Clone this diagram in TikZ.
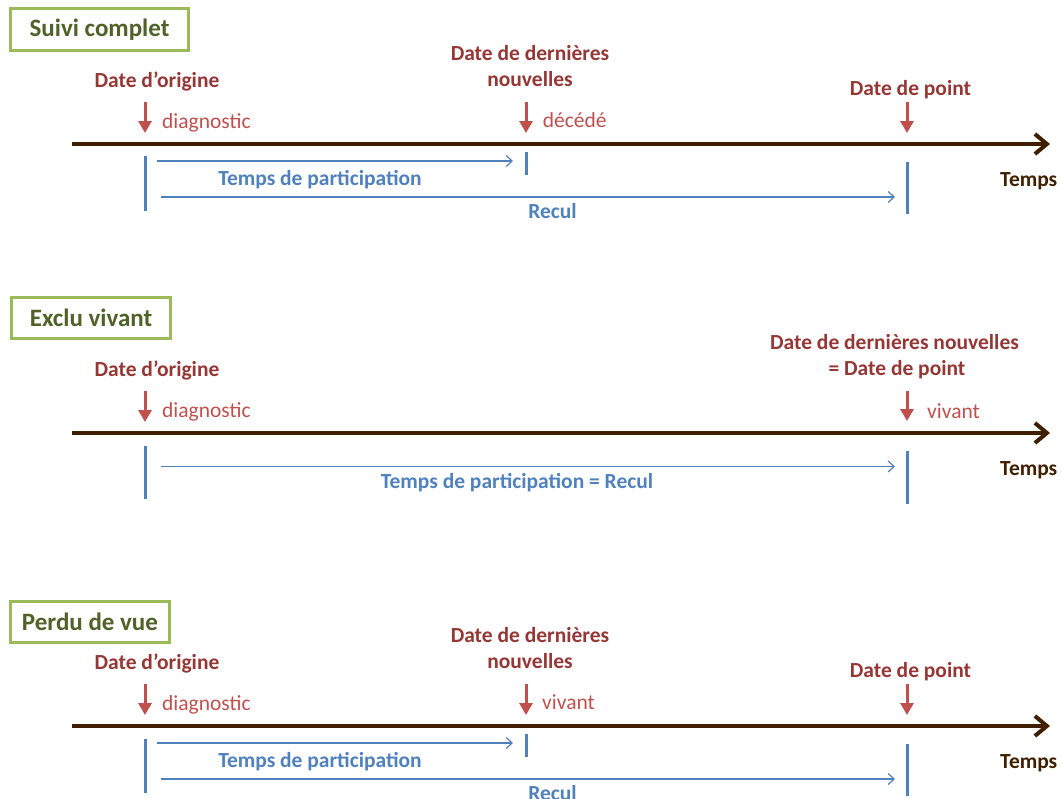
\documentclass[tikz,border=0pt]{standalone}
\usepackage{fontspec}
\setmainfont{Carlito}
\usetikzlibrary{arrows.meta}
\definecolor{labred}{RGB}{149,55,53}
\definecolor{notered}{RGB}{192,80,77}
\definecolor{tblue}{RGB}{79,129,189}
\definecolor{tbrown}{RGB}{63,31,0}
\definecolor{bgreen}{RGB}{155,187,89}
\definecolor{tgreen}{RGB}{79,98,40}
\tikzset{
  lab/.style={font=\fontsize{21.5}{25}\selectfont\bfseries, text=labred, inner sep=0pt, anchor=base},
  note/.style={font=\fontsize{21.5}{25}\selectfont, text=notered, inner sep=0pt, anchor=base west},
  bluelab/.style={font=\fontsize{21.5}{25}\selectfont\bfseries, text=tblue, inner sep=0pt, anchor=base},
  tempslab/.style={font=\fontsize{21.5}{25}\selectfont\bfseries, text=tbrown, inner sep=0pt, anchor=base west},
  titlebox/.style={draw=bgreen, line width=3pt, fill=white, font=\fontsize{25}{29}\selectfont\bfseries, text=tgreen, inner sep=0pt},
  redarrow/.style={draw=notered, line width=3pt, -{Triangle[length=12pt,width=13pt]}},
  timeline/.style={draw=tbrown, line width=4pt, -{Straight Barb[length=12pt,width=20pt,line width=4pt]}},
  tick/.style={draw=tblue, line width=3pt},
  bluearrow/.style={draw=tblue, line width=1.2pt, -{Straight Barb[length=6pt,width=11pt]}},
}
\begin{document}
\begin{tikzpicture}[x=1pt,y=-1pt]
\useasboundingbox (0,0) rectangle (1062,798);

% ---------- Panel 1 : Suivi complet ----------
\node[titlebox, minimum width=178pt, minimum height=42pt] (ba) at (99.5,29.2) {Suivi complet};
\begin{scope}
  \node[lab] (oa) at (157,87) {Date d’origine};
  \coordinate (oa1) at (145,102); \coordinate (oa2) at (145,133);
  \draw[redarrow] (oa1) -- (oa2);
  \node[note] (da) at (162,128) {diagnostic};
  \node[lab] (la1) at (530,60.7) {Date de dernières};
  \node[lab] (la2) at (530,86.7) {nouvelles};
  \coordinate (na1) at (526,102); \coordinate (na2) at (526,133);
  \draw[redarrow] (na1) -- (na2);
  \node[note] (ea) at (542.7,127.5) {décédé};
  \node[lab] (pa) at (910.5,95) {Date de point};
  \coordinate (pa1) at (907,102); \coordinate (pa2) at (907,133);
  \draw[redarrow] (pa1) -- (pa2);
  \coordinate (ta1) at (72,144); \coordinate (ta2) at (1050,144);
  \draw[timeline] (ta1) -- (ta2);
  \node[tempslab] (tta) at (1000,186.7) {Temps};
  \coordinate (ka1) at (145,156); \coordinate (ka2) at (145,211);
  \draw[tick] (ka1) -- (ka2);
  \coordinate (kb1) at (526,152); \coordinate (kb2) at (526,175);
  \draw[tick] (kb1) -- (kb2);
  \coordinate (kc1) at (907,162); \coordinate (kc2) at (907,214);
  \draw[tick] (kc1) -- (kc2);
  \coordinate (aa1) at (157,161); \coordinate (aa2) at (513,161);
  \draw[bluearrow] (aa1) -- (aa2);
  \node[bluelab] (tpa) at (320,185) {Temps de participation};
  \coordinate (ab1) at (161,197); \coordinate (ab2) at (895,197);
  \draw[bluearrow] (ab1) -- (ab2);
  \node[bluelab] (ra) at (552.5,218.7) {Recul};
\end{scope}

% ---------- Panel 2 : Exclu vivant ----------
\node[titlebox, minimum width=159pt, minimum height=41pt] (bb) at (91,318) {Exclu vivant};
\begin{scope}[yshift=-289pt]
  \node[lab] (ob) at (157,87) {Date d’origine};
  \coordinate (ob1) at (145,102); \coordinate (ob2) at (145,133);
  \draw[redarrow] (ob1) -- (ob2);
  \node[note] (db) at (162,128) {diagnostic};
  \node[lab] (lb1) at (894.5,60) {Date de dernières nouvelles};
  \node[lab] (lb2) at (897,86) {= Date de point};
  \coordinate (pb1) at (907,102); \coordinate (pb2) at (907,132);
  \draw[redarrow] (pb1) -- (pb2);
  \node[note] (vb) at (927,129.5) {vivant};
  \coordinate (tb1) at (72,144); \coordinate (tb2) at (1050,144);
  \draw[timeline] (tb1) -- (tb2);
  \node[tempslab] (ttb) at (1000,186.7) {Temps};
  \coordinate (kd1) at (145,157); \coordinate (kd2) at (145,210);
  \draw[tick] (kd1) -- (kd2);
  \coordinate (ke1) at (907,162); \coordinate (ke2) at (907,215);
  \draw[tick] (ke1) -- (ke2);
  \coordinate (ac1) at (161,177.5); \coordinate (ac2) at (895,177.5);
  \draw[bluearrow] (ac1) -- (ac2);
  \node[bluelab] (tpb) at (517,199.5) {Temps de participation = Recul};
\end{scope}

% ---------- Panel 3 : Perdu de vue ----------
\node[titlebox, minimum width=159pt, minimum height=41pt] (bc) at (90,622) {Perdu de vue};
\begin{scope}[yshift=-582pt]
  \node[lab] (oc) at (157,87) {Date d’origine};
  \coordinate (oc1) at (145,102); \coordinate (oc2) at (145,133);
  \draw[redarrow] (oc1) -- (oc2);
  \node[note] (dc) at (162,128) {diagnostic};
  \node[lab] (lc1) at (530,60.7) {Date de dernières};
  \node[lab] (lc2) at (530,86.7) {nouvelles};
  \coordinate (nc1) at (526,102); \coordinate (nc2) at (526,133);
  \draw[redarrow] (nc1) -- (nc2);
  \node[note] (vc) at (542,127.5) {vivant};
  \node[lab] (pc) at (910.5,95) {Date de point};
  \coordinate (pc1) at (907,102); \coordinate (pc2) at (907,133);
  \draw[redarrow] (pc1) -- (pc2);
  \coordinate (tc1) at (72,144); \coordinate (tc2) at (1050,144);
  \draw[timeline] (tc1) -- (tc2);
  \node[tempslab] (ttc) at (1000,186.7) {Temps};
  \coordinate (kf1) at (145,157); \coordinate (kf2) at (145,211);
  \draw[tick] (kf1) -- (kf2);
  \coordinate (kg1) at (526,152); \coordinate (kg2) at (526,175);
  \draw[tick] (kg1) -- (kg2);
  \coordinate (kh1) at (907,162); \coordinate (kh2) at (907,214);
  \draw[tick] (kh1) -- (kh2);
  \coordinate (ad1) at (157,161); \coordinate (ad2) at (513,161);
  \draw[bluearrow] (ad1) -- (ad2);
  \node[bluelab] (tpc) at (320,185) {Temps de participation};
  \coordinate (ae1) at (161,197); \coordinate (ae2) at (895,197);
  \draw[bluearrow] (ae1) -- (ae2);
  \node[bluelab] (rc) at (552.5,218.7) {Recul};
\end{scope}
\end{tikzpicture}
\end{document}
